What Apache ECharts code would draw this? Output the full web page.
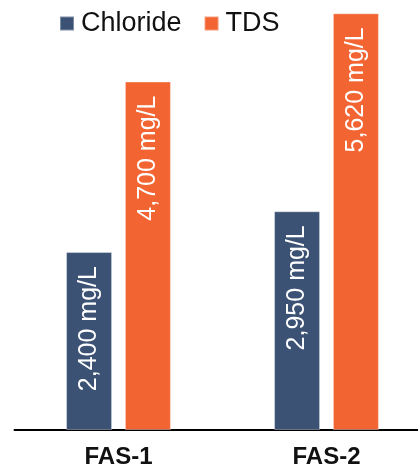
<!DOCTYPE html>
<html>
<head>
<meta charset="utf-8">
<script src="https://cdn.jsdelivr.net/npm/echarts@6/dist/echarts.min.js"></script>
<style>
  html, body { margin: 0; padding: 0; background: #fff; }
  #chart { width: 418px; height: 472px; }
</style>
</head>
<body>
<div id="chart"></div>
<script>
// Sample sites and measured concentrations (mg/L)
const sites = ['FAS-1', 'FAS-2'];
const chloride = [2400, 2950];
const tds = [4700, 5620];

const FONT = '"Liberation Sans", Arial, sans-serif';
const fmt = v => v.toLocaleString('en-US') + ' mg/L';

const barLabel = {
  show: true,
  position: 'insideTop',
  rotate: 90,
  align: 'right',
  verticalAlign: 'middle',
  distance: 14,
  color: '#ffffff',
  fontFamily: FONT,
  fontSize: 25,
  formatter: p => fmt(p.value)
};

const chart = echarts.init(document.getElementById('chart'), null, { renderer: 'canvas' });
chart.setOption({
  animation: false,
  backgroundColor: '#ffffff',
  legend: {
    left: 59,
    top: 10,
    padding: 0,
    itemWidth: 14,
    itemHeight: 14,
    itemGap: 22,
    icon: 'rect',
    textStyle: { fontFamily: FONT, fontSize: 27, color: '#111111', padding: [0, 0, 0, 2] },
    data: ['Chloride', 'TDS']
  },
  // plot area runs slightly past the right edge so the baseline reaches it
  grid: {
    left: 14.5, right: -12.5, top: 0, bottom: 42,
    containLabel: false, outerBoundsMode: 'none'
  },
  xAxis: {
    type: 'category',
    data: sites,
    axisLine: { lineStyle: { color: '#000000', width: 2 } },
    axisTick: { show: false },
    axisLabel: {
      margin: 15,
      fontFamily: FONT,
      fontSize: 24,
      fontWeight: 'bold',
      color: '#111111'
    }
  },
  yAxis: {
    type: 'value',
    min: 0,
    max: 5800,
    show: false,
    splitLine: { show: false }
  },
  series: [
    {
      name: 'Chloride',
      type: 'bar',
      data: chloride,
      barWidth: 46,
      barGap: '28%',
      itemStyle: { color: '#3B5275', borderColor: 'rgba(255,255,255,0.35)', borderWidth: 1 },
      label: barLabel
    },
    {
      name: 'TDS',
      type: 'bar',
      data: tds,
      barWidth: 46,
      itemStyle: { color: '#F26532', borderColor: 'rgba(255,255,255,0.35)', borderWidth: 1 },
      label: barLabel
    }
  ]
});
</script>
</body>
</html>
